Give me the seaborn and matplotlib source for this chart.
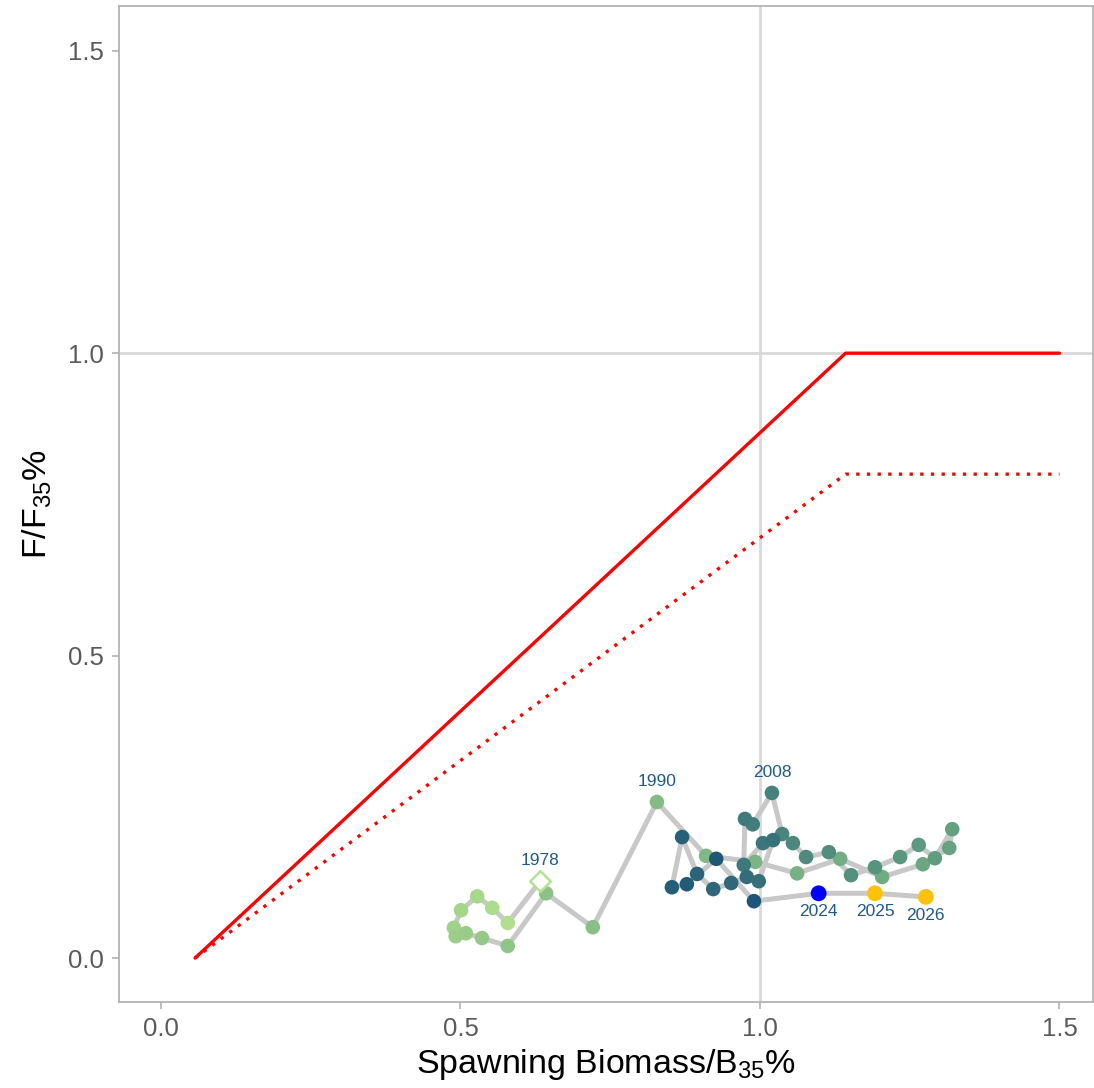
import numpy as np
import pandas as pd
import matplotlib
matplotlib.use("Agg")
import matplotlib.pyplot as plt
from matplotlib.colors import LinearSegmentedColormap
import seaborn as sns

# ---- data ----
years = list(range(1978, 2024))
ssb_ratio = [0.633, 0.579, 0.553, 0.528, 0.501, 0.489, 0.492, 0.509, 0.536, 0.579,
             0.643, 0.721, 0.828, 0.910, 0.992, 1.062, 1.134, 1.204, 1.272, 1.316,
             1.321, 1.292, 1.265, 1.234, 1.192, 1.152, 1.115, 1.077, 1.055, 1.037,
             1.020, 0.988, 0.975, 0.973, 1.005, 1.022, 0.998, 0.978, 0.952, 0.922,
             0.895, 0.870, 0.853, 0.878, 0.927, 0.990]
f_ratio = [0.127, 0.058, 0.083, 0.102, 0.079, 0.050, 0.036, 0.041, 0.033, 0.020,
           0.107, 0.051, 0.258, 0.169, 0.159, 0.140, 0.164, 0.134, 0.155, 0.182,
           0.213, 0.165, 0.187, 0.167, 0.150, 0.137, 0.175, 0.167, 0.190, 0.205,
           0.273, 0.221, 0.230, 0.154, 0.190, 0.195, 0.127, 0.134, 0.124, 0.114,
           0.139, 0.200, 0.117, 0.122, 0.164, 0.094]

proj_years = [2024, 2025, 2026]
proj_ssb = [1.098, 1.192, 1.277]
proj_f = [0.107, 0.107, 0.101]
proj_colors = ["#0000FF", "#FFC20A", "#FFC20A"]

labelled_years = [1978, 1990, 2008]

# harvest control rule vertices
hcr_x = [0.057, 1.143, 1.5]
ofl_y = [0.0, 1.0, 1.0]
abc_y = [0.0, 0.8, 0.8]

# ---- style ----
sns.set_theme(style="white")
plt.rcParams["font.family"] = ["Liberation Sans", "DejaVu Sans"]
plt.rcParams["mathtext.fontset"] = "custom"
plt.rcParams["mathtext.rm"] = "Liberation Sans"
plt.rcParams["mathtext.it"] = "Liberation Sans"

fig = plt.figure(figsize=(10.94, 10.88), dpi=100)
ax = fig.add_axes([119 / 1094, 86 / 1088, 974 / 1094, 996 / 1088])

ax.axhline(1.0, color="#d9d9d9", lw=2.0, zorder=1)
ax.axvline(1.0, color="#d9d9d9", lw=2.0, zorder=1)

sns.lineplot(x=hcr_x, y=ofl_y, color="red", lw=2.4, ax=ax, sort=False,
             estimator=None, zorder=2)
sns.lineplot(x=hcr_x, y=abc_y, color="red", lw=2.4, ax=ax, sort=False,
             estimator=None, zorder=2, linestyle=(0, (1, 2.2)))

all_x = ssb_ratio + proj_ssb
all_y = f_ratio + proj_f
sns.lineplot(x=all_x, y=all_y, color="#c8c8c8", lw=3.6, ax=ax, sort=False,
             estimator=None, zorder=3)

df = pd.DataFrame({"year": years, "ssb": ssb_ratio, "f": f_ratio})
cmap = LinearSegmentedColormap.from_list("yr", ["#b3e38d", "#5a987e", "#1c5577"])
dfp = df[df.year > 1978]
sns.scatterplot(data=dfp, x="ssb", y="f", hue="year", palette=cmap,
                hue_norm=(1978, 2023), s=110, linewidth=0, legend=False,
                ax=ax, zorder=4)
first = df[df.year == 1978]
ax.scatter(first.ssb, first.f, marker="D", s=110, facecolor="white",
           edgecolor="#b3e38d", linewidth=1.8, zorder=5)

sns.scatterplot(x=proj_ssb, y=proj_f, hue=proj_years,
                palette=dict(zip(proj_years, proj_colors)), s=130, linewidth=0,
                legend=False, ax=ax, zorder=5)

lab_col = "#1f5a8a"
for yr in labelled_years:
    r = df[df.year == yr].iloc[0]
    ax.text(r.ssb, r.f + 0.022, str(yr), ha="center", va="bottom",
            fontsize=12.5, color=lab_col, zorder=6)
for yr, xv, yv in zip(proj_years, proj_ssb, proj_f):
    ax.text(xv, yv - 0.018, str(yr), ha="center", va="top",
            fontsize=12.5, color=lab_col, zorder=6)

ax.set_xlim(-0.070, 1.556)
ax.set_ylim(-0.0727, 1.574)
ax.set_xticks([0.0, 0.5, 1.0, 1.5])
ax.set_yticks([0.0, 0.5, 1.0, 1.5])
ax.set_xticklabels(["0.0", "0.5", "1.0", "1.5"])
ax.set_yticklabels(["0.0", "0.5", "1.0", "1.5"])
ax.tick_params(axis="both", which="both", length=5, width=1.2, color="#b3b3b3",
               labelsize=18.5, labelcolor="#5a5a5a", direction="out",
               bottom=True, left=True, pad=6)
for sp in ax.spines.values():
    sp.set_color("#b3b3b3")
    sp.set_linewidth(1.3)

ax.set_xlabel(r"Spawning Biomass/B$_{35}$%", fontsize=24.5, color="black", labelpad=4)
ax.set_ylabel(r"F/F$_{35}$%", fontsize=24.5, color="black", labelpad=10)

fig.savefig("out.png", dpi=100)
